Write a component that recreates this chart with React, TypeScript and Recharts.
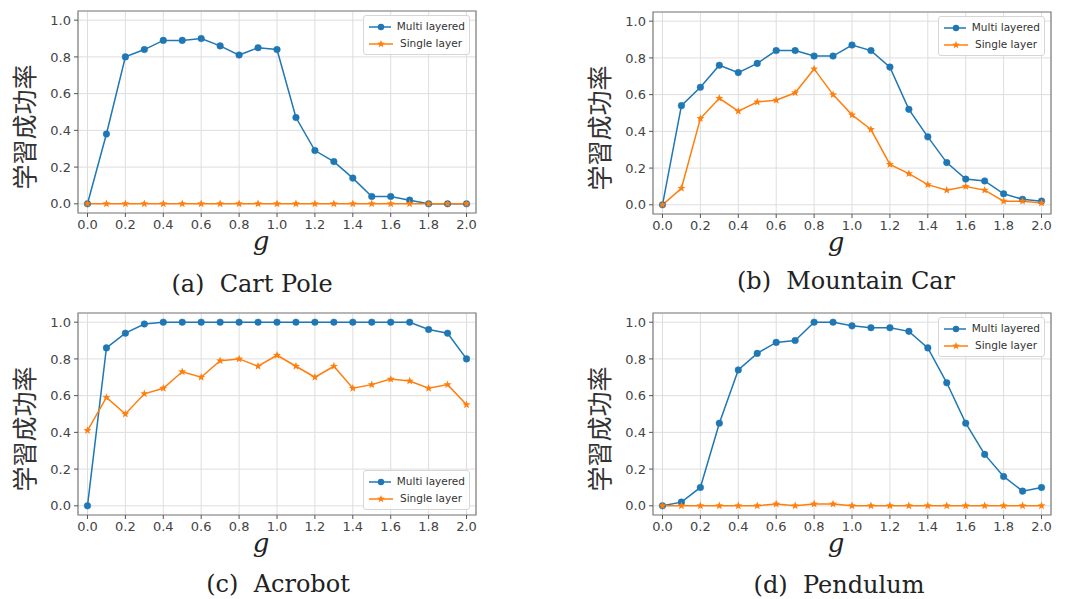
import { LineChart, Line, XAxis, YAxis, CartesianGrid, Legend, ReferenceArea } from "recharts";

const G_VALUES = [0, 0.1, 0.2, 0.3, 0.4, 0.5, 0.6, 0.7, 0.8, 0.9, 1.0, 1.1, 1.2, 1.3, 1.4, 1.5, 1.6, 1.7, 1.8, 1.9, 2.0];
const X_TICKS = [0, 0.2, 0.4, 0.6, 0.8, 1.0, 1.2, 1.4, 1.6, 1.8, 2.0];
const Y_TICKS = [0, 0.2, 0.4, 0.6, 0.8, 1.0];

const CARTPOLE_MULTI = [0, 0.38, 0.8, 0.84, 0.89, 0.89, 0.9, 0.86, 0.81, 0.85, 0.84, 0.47, 0.29, 0.23, 0.14, 0.04, 0.04, 0.02, 0, 0, 0];
const CARTPOLE_SINGLE = [0, 0, 0, 0, 0, 0, 0, 0, 0, 0, 0, 0, 0, 0, 0, 0, 0, 0, 0, 0, 0];

const MOUNTAIN_MULTI = [0, 0.54, 0.64, 0.76, 0.72, 0.77, 0.84, 0.84, 0.81, 0.81, 0.87, 0.84, 0.75, 0.52, 0.37, 0.23, 0.14, 0.13, 0.06, 0.03, 0.02];
const MOUNTAIN_SINGLE = [0, 0.09, 0.47, 0.58, 0.51, 0.56, 0.57, 0.61, 0.74, 0.6, 0.49, 0.41, 0.22, 0.17, 0.11, 0.08, 0.1, 0.08, 0.02, 0.02, 0.01];

const ACROBOT_MULTI = [0, 0.86, 0.94, 0.99, 1, 1, 1, 1, 1, 1, 1, 1, 1, 1, 1, 1, 1, 1, 0.96, 0.94, 0.8];
const ACROBOT_SINGLE = [0.41, 0.59, 0.5, 0.61, 0.64, 0.73, 0.7, 0.79, 0.8, 0.76, 0.82, 0.76, 0.7, 0.76, 0.64, 0.66, 0.69, 0.68, 0.64, 0.66, 0.55];

const PENDULUM_MULTI = [0, 0.02, 0.1, 0.45, 0.74, 0.83, 0.89, 0.9, 1, 1, 0.98, 0.97, 0.97, 0.95, 0.86, 0.67, 0.45, 0.28, 0.16, 0.08, 0.1];
const PENDULUM_SINGLE = [0, 0, 0, 0, 0, 0, 0.01, 0, 0.01, 0.01, 0, 0, 0, 0, 0, 0, 0, 0, 0, 0, 0];

const BLUE = "#1f77b4";
const ORANGE = "#ff7f0e";
const Y_LABEL = "学習成功率";
const PLOT_W = 398;
const PLOT_H = 202;

function starPoints(cx: number, cy: number, R: number, r: number) {
  const pts: string[] = [];
  for (let k = 0; k < 10; k++) {
    const rad = k % 2 === 0 ? R : r;
    const a = -Math.PI / 2 + (k * Math.PI) / 5;
    pts.push(`${cx + rad * Math.cos(a)},${cy + rad * Math.sin(a)}`);
  }
  return pts.join(" ");
}

const StarDot = (p: any) => {
  if (p.cx == null || p.cy == null) return <g key={`s-${p.index}`} />;
  return <polygon key={`s-${p.index}`} points={starPoints(p.cx, p.cy, 4.2, 1.8)} fill={ORANGE} />;
};

const LegendBox = ({ payload }: any) => (
  <div
    style={{
      border: "1px solid #d6d6d6",
      borderRadius: 3,
      background: "rgba(255,255,255,0.85)",
      padding: "2px 4px 2px 4px",
      fontFamily: "DejaVu Sans, sans-serif",
      fontSize: 10.5,
      color: "#333",
      lineHeight: "17px",
      whiteSpace: "nowrap",
    }}
  >
    {(payload || []).map((e: any) => (
      <div key={e.value} style={{ display: "flex", alignItems: "center" }}>
        <svg width={26} height={10}>
          <line x1={1} y1={5} x2={25} y2={5} stroke={e.color} strokeWidth={1.5} />
          {e.color === BLUE ? (
            <circle cx={13} cy={5} r={3.2} fill={BLUE} />
          ) : (
            <polygon points={starPoints(13, 5, 4, 1.7)} fill={ORANGE} />
          )}
        </svg>
        <span style={{ marginLeft: 6 }}>{e.value}</span>
      </div>
    ))}
  </div>
);

interface PanelProps {
  multi: number[];
  single: number[];
  caption: string;
  plotLeft: number;
  plotTop: number;
  captionX: number;
  captionY: number;
  legendBottom?: boolean;
}

function Panel({ multi, single, caption, plotLeft, plotTop, captionX, captionY, legendBottom }: PanelProps) {
  const data = G_VALUES.map((g, i) => ({ g, multi: multi[i], single: single[i] }));
  const xAxisH = 50;
  const legendTop = legendBottom ? plotTop + PLOT_H - 7 - 38 : plotTop + 4;
  return (
    <LineChart
      width={534}
      height={300}
      data={data}
      margin={{ top: plotTop, left: 0, right: 534 - plotLeft - PLOT_W, bottom: 300 - plotTop - PLOT_H - xAxisH }}
    >
      <CartesianGrid stroke="#dedede" strokeWidth={1} />
      <XAxis
        dataKey="g"
        type="number"
        domain={[-0.05, 2.05]}
        ticks={X_TICKS}
        allowDataOverflow
        tickFormatter={(v: number) => v.toFixed(1)}
        tick={{ fontSize: 13, fill: "#444", fontFamily: "DejaVu Sans, sans-serif" }}
        tickLine={{ stroke: "#555" }}
        tickSize={4}
        tickMargin={3}
        axisLine={false}
        height={xAxisH}
        label={{
          content: (p: any) => {
            const vb = p.viewBox || { x: plotLeft, y: plotTop + PLOT_H, width: PLOT_W };
            const gx = vb.x + vb.width / 2 - 16;
            return (
              <g>
                <text x={gx} y={vb.y + 37} textAnchor="middle" fontFamily="DejaVu Serif, serif" fontStyle="italic" fontSize={26} fill="#222">
                  g
                </text>
                <text x={captionX} y={captionY} textAnchor="middle" fontFamily="DejaVu Serif, serif" fontSize={24} fill="#222" style={{ whiteSpace: "pre" }}>
                  {caption}
                </text>
              </g>
            );
          },
        }}
      />
      <YAxis
        type="number"
        domain={[-0.05, 1.05]}
        ticks={Y_TICKS}
        allowDataOverflow
        tickFormatter={(v: number) => v.toFixed(1)}
        tick={{ fontSize: 13, fill: "#444", fontFamily: "DejaVu Sans, sans-serif" }}
        tickLine={{ stroke: "#555" }}
        tickSize={4}
        tickMargin={3}
        axisLine={false}
        width={plotLeft}
        label={{
          content: () => {
            const lx = plotLeft - 55;
            const ly = plotTop + 116;
            return (
              <text
                x={lx}
                y={ly}
                transform={`rotate(-90 ${lx} ${ly})`}
                textAnchor="middle"
                dominantBaseline="central"
                fontFamily="Noto Sans CJK JP, sans-serif"
                fontSize={25}
                fill="#333"
              >
                {Y_LABEL}
              </text>
            );
          },
        }}
      />
      <ReferenceArea x1={-0.05} x2={2.05} y1={-0.05} y2={1.05} fill="none" stroke="#808080" strokeWidth={1.2} />
      <Legend
        layout="vertical"
        align="center"
        verticalAlign="middle"
        content={<LegendBox />}
        wrapperStyle={{ left: plotLeft + PLOT_W - 113, top: legendTop, width: 107 }}
      />
      <Line
        type="linear"
        dataKey="multi"
        name="Multi layered"
        stroke={BLUE}
        strokeWidth={1.5}
        dot={{ r: 3.3, fill: BLUE, stroke: BLUE, strokeWidth: 0.5 }}
        isAnimationActive={false}
      />
      <Line
        type="linear"
        dataKey="single"
        name="Single layer"
        stroke={ORANGE}
        strokeWidth={1.5}
        dot={StarDot}
        isAnimationActive={false}
      />
    </LineChart>
  );
}

export default function App() {
  return (
    <div style={{ position: "absolute", left: 0, top: 0, width: 1068, height: 599, background: "#fff" }}>
      <div style={{ position: "absolute", left: 0, top: 0 }}>
        <Panel multi={CARTPOLE_MULTI} single={CARTPOLE_SINGLE} caption="(a)  Cart Pole" plotLeft={78} plotTop={11} captionX={252} captionY={292} />
      </div>
      <div style={{ position: "absolute", left: 534, top: 0 }}>
        <Panel multi={MOUNTAIN_MULTI} single={MOUNTAIN_SINGLE} caption="(b)  Mountain Car" plotLeft={119} plotTop={12} captionX={312} captionY={289} />
      </div>
      <div style={{ position: "absolute", left: 0, top: 300 }}>
        <Panel multi={ACROBOT_MULTI} single={ACROBOT_SINGLE} caption="(c)  Acrobot" plotLeft={78} plotTop={13} captionX={278} captionY={292} legendBottom />
      </div>
      <div style={{ position: "absolute", left: 534, top: 300 }}>
        <Panel multi={PENDULUM_MULTI} single={PENDULUM_SINGLE} caption="(d)  Pendulum" plotLeft={119} plotTop={13} captionX={305} captionY={293} />
      </div>
    </div>
  );
}
